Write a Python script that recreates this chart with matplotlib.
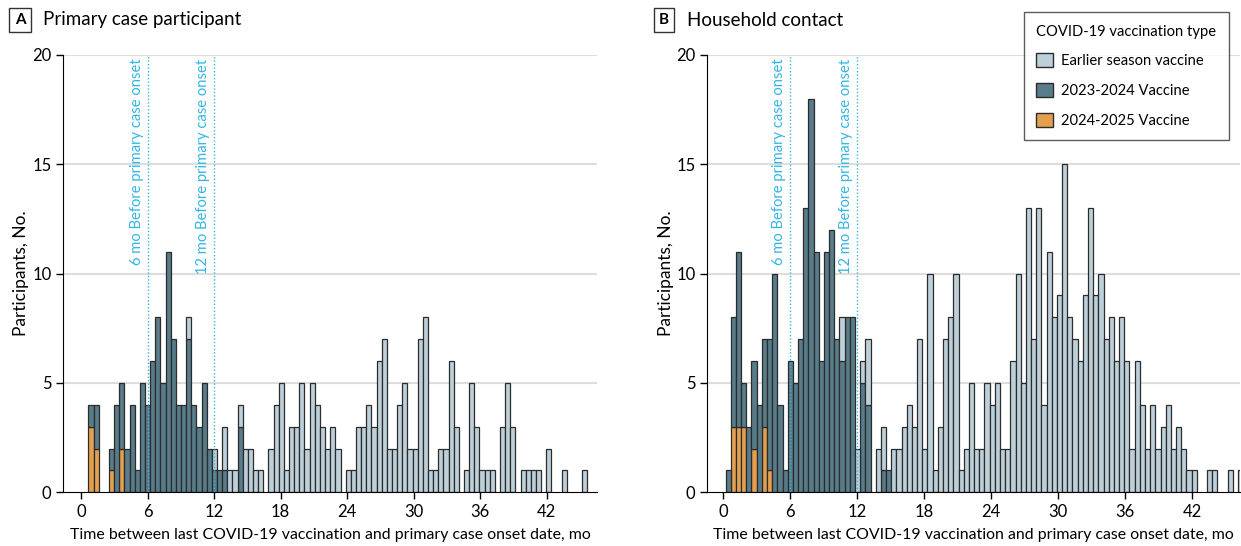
import numpy as np
import matplotlib.pyplot as plt
from matplotlib.patches import Patch

plt.rcParams['font.family'] = ['Lato', 'DejaVu Sans']

# bins are two weeks wide, in months
bin_start = 0.2
bin_w = 0.464

# Panel A - primary case participants, counts per bin
a_orange = [0, 3, 2, 0, 0, 1, 0, 2]
a_dark = [0, 1, 2, 0, 0, 1, 4, 3, 2, 4, 1, 5, 4, 6, 8, 5, 11, 7, 4, 4, 7, 4, 3, 5, 2, 1, 1, 1, 0, 0, 3]
a_light = [0, 0, 0, 0, 0, 0, 0, 0, 0, 0, 0, 0, 0, 0, 0, 0, 0, 0, 0, 0, 1, 0, 0, 0, 0, 1, 0, 2, 1, 1, 1,
           2, 2, 1, 1, 0, 2, 4, 5, 1, 3, 3, 5, 2, 5, 4, 3, 2, 3, 2, 0, 1, 1, 3, 3, 4, 3, 6, 7, 2, 2,
           4, 5, 2, 2, 7, 8, 1, 1, 2, 2, 6, 3, 0, 1, 5, 3, 1, 1, 1, 0, 3, 5, 3, 0, 1, 1, 1, 1, 0, 2,
           0, 0, 1, 0, 0, 0, 1]

# Panel B - household contacts
b_orange = [0, 3, 3, 3, 0, 2, 0, 3, 1]
b_dark = [1, 5, 8, 2, 3, 4, 4, 4, 6, 10, 4, 1, 6, 5, 7, 13, 18, 11, 6, 11, 12, 7, 6, 8, 8, 0, 5, 4, 0, 0, 1, 1]
b_light = [0] * 22 + [2, 0, 0, 2, 1, 3, 0, 2, 2, 0,
                      2, 2, 3, 4, 3, 7, 2, 10, 1, 3, 7, 8, 10, 1, 2, 5, 2, 2, 5, 4, 5, 2, 2, 6, 10,
                      5, 13, 7, 13, 4, 11, 8, 9, 15, 8, 7, 6, 9, 13, 9, 10, 7, 8, 6, 8, 6, 2, 6, 4,
                      2, 4, 2, 3, 4, 2, 3, 2, 1, 1, 0, 0, 1, 1, 0, 0, 1, 0, 1]

c_orange = '#e4a04f'
c_dark = '#587c8a'
c_light = '#bdd0da'
c_line = '#33b5e5'
edge = '#2b2b2b'

fig = plt.figure(figsize=(12.41, 5.46), dpi=100)
axA = fig.add_axes([0.0510, 0.0984, 0.4298, 0.8009])
axB = fig.add_axes([0.5700, 0.0984, 0.4292, 0.8009])


def pad(vals, n):
    return np.array(vals + [0] * (n - len(vals)), dtype=float)


def draw(ax, orange, dark, light, xlim):
    n = max(len(orange), len(dark), len(light))
    o = pad(orange, n)
    d = pad(dark, n)
    l = pad(light, n)
    x = bin_start + bin_w * np.arange(n)
    kw = dict(width=bin_w, align='edge', edgecolor=edge, linewidth=0.9)
    m = o > 0
    ax.bar(x[m], o[m], color=c_orange, **kw)
    m = d > 0
    ax.bar(x[m], d[m], bottom=o[m], color=c_dark, **kw)
    m = l > 0
    ax.bar(x[m], l[m], bottom=(o + d)[m], color=c_light, **kw)

    for g in [5, 10, 15, 20]:
        ax.axhline(g, color='#dddddd', lw=1.5, zorder=0)
    for v, lab in [(6, '6 mo Before primary case onset'), (12, '12 mo Before primary case onset')]:
        ax.axvline(v, color=c_line, lw=1, ls=(0, (1, 1.5)), zorder=3)
        ax.text(v - 0.35, 19.85, lab, rotation=90, ha='right', va='top',
                color=c_line, fontsize=10.6)

    ax.set_xlim(*xlim)
    ax.set_ylim(0, 20)
    ax.set_xticks(range(0, 43, 6))
    ax.set_yticks([0, 5, 10, 15, 20])
    ax.spines['top'].set_visible(False)
    ax.spines['right'].set_visible(False)
    ax.tick_params(labelsize=12, length=5, width=1, direction='out')
    ax.set_ylabel('Participants, No.', fontsize=12.5, labelpad=2)
    ax.set_xlabel('Time between last COVID-19 vaccination and primary case onset date, mo',
                  fontsize=11.4, labelpad=6)


draw(axA, a_orange, a_dark, a_light, (-1.6, 46.5))
draw(axB, b_orange, b_dark, b_light, (-1.43, 46.3))

# panel titles
for xb, letter, title in [(20, 'A', 'Primary case participant'), (664, 'B', 'Household contact')]:
    fig.text(xb / 1241, 1 - 20 / 546, letter, fontsize=11, fontweight='bold', ha='center', va='center',
             bbox=dict(boxstyle='square,pad=0.35', fc='white', ec='#333333', lw=1))
    fig.text((xb + 23) / 1241, 1 - 20 / 546, title, fontsize=13.5, ha='left', va='center')

handles = [Patch(facecolor=c_light, edgecolor=edge, label='Earlier season vaccine'),
           Patch(facecolor=c_dark, edgecolor=edge, label='2023-2024 Vaccine'),
           Patch(facecolor=c_orange, edgecolor=edge, label='2024-2025 Vaccine')]
leg = fig.legend(handles=handles, title='COVID-19 vaccination type', loc='upper right',
                 bbox_to_anchor=(1229 / 1241, 1 - 12 / 546), borderaxespad=0,
                 fontsize=10.6, title_fontsize=10.6,
                 frameon=True, fancybox=False, edgecolor='#333333', handlelength=1.1,
                 handleheight=1.1, handletextpad=0.6, labelspacing=1.0, borderpad=0.85,
                 alignment='left')
leg.get_frame().set_linewidth(1)

fig.savefig('out.png', dpi=100)
